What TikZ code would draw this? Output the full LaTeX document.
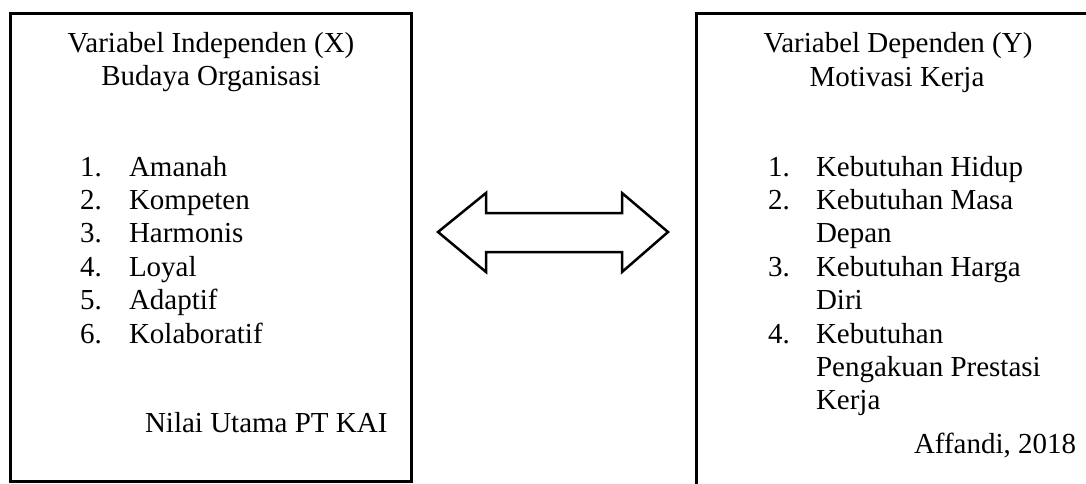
\documentclass[tikz,border=0pt]{standalone}
\usepackage{fontspec}
\setmainfont{Liberation Serif}
\begin{document}
\begin{tikzpicture}[x=1pt,y=-1pt,
  every node/.style={inner sep=0pt, outer sep=0pt, font=\fontsize{29}{33.5}\selectfont},
  frame/.style={draw, line width=3pt, fill=none},
  txt/.style={anchor=base west},
  ctr/.style={anchor=base},
  blockarrow/.style={draw, line width=2.5pt, line join=miter, fill=white}]
\useasboundingbox (0,0) rectangle (1086,484);
\clip (0,0) rectangle (1086,484);
% boxes
\node[frame, minimum width=401pt, minimum height=468pt] (boxX) at (210.5,247.5) {};
\node[frame, minimum width=404pt, minimum height=500pt] (boxY) at (898,264) {};
% left box text
\node[ctr] (tX1) at (211,53) {Variabel Independen (X)};
\node[ctr] (tX2) at (211,86) {Budaya Organisasi};
\node[txt] (nX1) at (80,176) {1.};   \node[txt] (iX1) at (129,176) {Amanah};
\node[txt] (nX2) at (80,209.4) {2.}; \node[txt] (iX2) at (129,209.4) {Kompeten};
\node[txt] (nX3) at (80,242.8) {3.}; \node[txt] (iX3) at (129,242.8) {Harmonis};
\node[txt] (nX4) at (80,276.2) {4.}; \node[txt] (iX4) at (129,276.2) {Loyal};
\node[txt] (nX5) at (80,309.6) {5.}; \node[txt] (iX5) at (129,309.6) {Adaptif};
\node[txt] (nX6) at (80,343) {6.};   \node[txt] (iX6) at (129,343) {Kolaboratif};
\node[txt] (srcX) at (145,432) {Nilai Utama PT KAI};
% right box text
\node[ctr] (tY1) at (898,53) {Variabel Dependen (Y)};
\node[ctr] (tY2) at (897,87) {Motivasi Kerja};
\node[txt] (nY1) at (768,176) {1.};   \node[txt] (iY1) at (816,176) {Kebutuhan Hidup};
\node[txt] (nY2) at (768,209.4) {2.}; \node[txt] (iY2) at (816,209.4) {Kebutuhan Masa};
\node[txt] (iY2b) at (816,242.8) {Depan};
\node[txt] (nY3) at (768,276.2) {3.}; \node[txt] (iY3) at (816,276.2) {Kebutuhan Harga};
\node[txt] (iY3b) at (816,309.6) {Diri};
\node[txt] (nY4) at (768,343) {4.};   \node[txt] (iY4) at (816,343) {Kebutuhan};
\node[txt] (iY4b) at (816,376.4) {Pengakuan Prestasi};
\node[txt] (iY4c) at (816,409.8) {Kerja};
\node[txt] (srcY) at (914,453) {Affandi, 2018};
% double block arrow
\coordinate (aL) at (438,232);
\coordinate (aR) at (668,232);
\draw[blockarrow] (aL) -- (486,193) -- (486,213) -- (622,213) -- (622,193) -- (aR)
  -- (622,272) -- (622,252) -- (486,252) -- (486,272) -- cycle;
\end{tikzpicture}
\end{document}
